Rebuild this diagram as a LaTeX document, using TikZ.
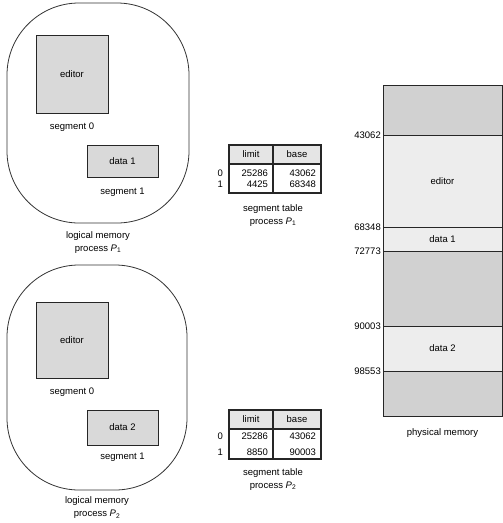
\documentclass[tikz,border=0pt]{standalone}
\usepackage{fontspec}
\setmainfont{Liberation Sans}
\usetikzlibrary{positioning}

\begin{document}
\begin{tikzpicture}[x=1pt, y=-1pt, font=\fontsize{9.5}{11}\selectfont,
    oval/.style={draw=black!80, line width=0.8pt, rounded corners=72pt},
    segbox/.style={draw=black!85, line width=0.9pt, fill=black!15, inner sep=0pt},
    txt/.style={inner sep=1pt, align=center, font=\fontsize{9.5}{13}\selectfont},
    headcell/.style={draw=black!85, line width=1.1pt, fill=black!10, minimum height=19pt, inner sep=0pt, outer sep=0pt},
    bodycell/.style={draw=black!85, line width=1.1pt, align=right, inner xsep=5pt, inner ysep=0pt, outer sep=0pt},
    memfree/.style={draw=black!85, line width=1pt, fill=black!18, minimum width=119pt, inner sep=0pt, outer sep=0pt},
    memused/.style={memfree, fill=black!7}]
    \useasboundingbox (0,0) rectangle (503,523);

    % logical memory, process P1
    \node[oval, minimum width=182pt, minimum height=220pt] (lm1) at (98,113) {};
    \node[segbox, minimum width=72pt, minimum height=78pt] (ed1) at (72,74) {editor};
    \node[txt, below=8pt of ed1] (ed1lab) {segment 0};
    \node[segbox, minimum width=71pt, minimum height=32pt] (dat1) at (122.5,161) {data 1};
    \node[txt, below=9pt of dat1] (dat1lab) {segment 1};
    \node[txt, below=7pt of lm1] (lm1lab) {logical memory\\process \textit{P}\textsubscript{1}};

    % segment table, process P1
    \node[headcell, minimum width=44pt] (lim1) at (251,154.5) {limit};
    \node[headcell, minimum width=48pt, right=0pt of lim1] (bas1) {base};
    \node[bodycell, text width=34pt, minimum height=29pt, below=0pt of lim1] (lim1v) {25286\\4425};
    \node[bodycell, text width=38pt, minimum height=29pt, below=0pt of bas1] (bas1v) {43062\\68348};
    \node[inner sep=1pt, align=center, left=5pt of lim1v] (idx1) {0\\1};
    \node[txt, below=10pt of lim1v.south east] (tab1lab) {segment table\\process \textit{P}\textsubscript{1}};

    % logical memory, process P2
    \node[oval, minimum width=180pt, minimum height=225pt] (lm2) at (97,377.5) {};
    \node[segbox, minimum width=72pt, minimum height=76pt] (ed2) at (72,340) {editor};
    \node[txt, below=8pt of ed2] (ed2lab) {segment 0};
    \node[segbox, minimum width=71pt, minimum height=35pt] (dat2) at (122.5,427.5) {data 2};
    \node[txt, below=6pt of dat2] (dat2lab) {segment 1};
    \node[txt, below=5pt of lm2] (lm2lab) {logical memory\\process \textit{P}\textsubscript{2}};

    % segment table, process P2
    \node[headcell, minimum width=44pt] (lim2) at (251,419.5) {limit};
    \node[headcell, minimum width=48pt, right=0pt of lim2] (bas2) {base};
    \node[bodycell, text width=34pt, minimum height=30pt, below=0pt of lim2] (lim2v) {25286\\[5pt]8850};
    \node[bodycell, text width=38pt, minimum height=30pt, below=0pt of bas2] (bas2v) {43062\\[5pt]90003};
    \node[inner sep=1pt, align=center, left=5pt of lim2v] (idx2) {0\\[5pt]1};
    \node[txt, below=8pt of lim2v.south east] (tab2lab) {segment table\\process \textit{P}\textsubscript{2}};

    % physical memory
    \node[memfree, minimum height=50pt] (pm0) at (442.5,110) {};
    \node[memused, minimum height=92pt, below=0pt of pm0] (pmed) {editor};
    \node[memused, minimum height=24pt, below=0pt of pmed] (pmd1) {data 1};
    \node[memfree, minimum height=75pt, below=0pt of pmd1] (pm1) {};
    \node[memused, minimum height=45pt, below=0pt of pm1] (pmd2) {data 2};
    \node[memfree, minimum height=45pt, below=0pt of pmd2] (pm2) {};
    \node[txt, below=11pt of pm2] (pmlab) {physical memory};
    \foreach \seg/\addr in {pmed/43062, pmd1/68348, pm1/72773, pmd2/90003, pm2/98553}
        \node[inner sep=1pt, left=1pt of \seg.north west] (addr\addr) {\addr};
\end{tikzpicture}
\end{document}
